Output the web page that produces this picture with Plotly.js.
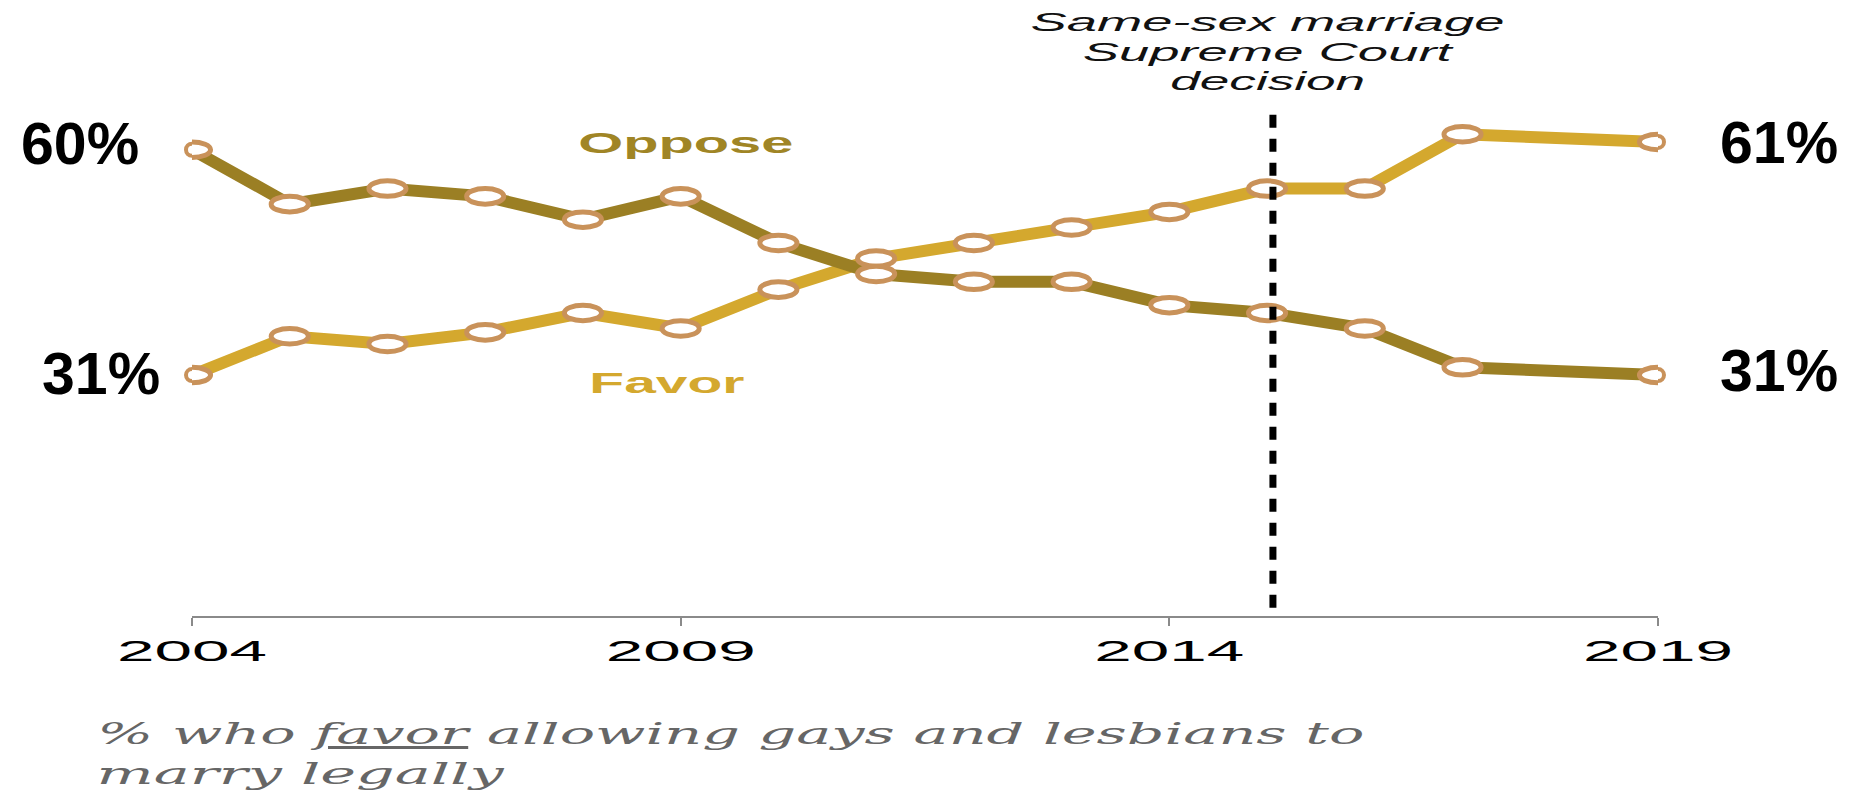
<!DOCTYPE html>
<html>
<head>
<meta charset="utf-8">
<script src="https://cdn.plot.ly/plotly-3.0.1.min.js"></script>
<style>
  html, body { margin: 0; padding: 0; background: #ffffff; }
  #chart { width: 1850px; height: 792px; }
</style>
</head>
<body>
<div id="chart"></div>
<script>
// ---- data ----
const years  = [2004, 2005, 2006, 2007, 2008, 2009, 2010, 2011, 2012, 2013, 2014, 2015, 2016, 2017, 2019];
const favor  = [31, 36, 35, 36.5, 39, 37, 42, 46, 48, 50, 52, 55, 55, 62, 61];
const oppose = [60, 53, 55, 54, 51, 54, 48, 44, 43, 43, 40, 39, 37, 32, 31];
const tickYears  = [2004, 2009, 2014, 2019];
const tickLabels = ['2004', '2009', '2014', '2019'];
const decisionYear = 2015.06;
const decisionLines = ['Same-sex marriage', 'Supreme Court', 'decision'];
const seriesNames = ['Oppose', 'Favor'];
const subtitleLines = ['% who <span style="text-decoration:underline">favor</span> allowing gays and lesbians to', 'marry legally'];

// ---- styles ----
const OPPOSE_COLOR = '#9B7F24';
const FAVOR_COLOR  = '#D4A82E';
const MARKER_EDGE  = '#C9925A';
const SANS = 'Liberation Sans, Arial, sans-serif';

const traces = [
  { x: years, y: favor, name: seriesNames[1], type: 'scatter', mode: 'lines+markers',
    line: { color: FAVOR_COLOR, width: 12 },
    marker: { symbol: 'circle', size: 12, color: '#ffffff', line: { color: MARKER_EDGE, width: 4 } },
    cliponaxis: false, hoverinfo: 'x+y' },
  { x: years, y: oppose, name: seriesNames[0], type: 'scatter', mode: 'lines+markers',
    line: { color: OPPOSE_COLOR, width: 12 },
    marker: { symbol: 'circle', size: 12, color: '#ffffff', line: { color: MARKER_EDGE, width: 4 } },
    cliponaxis: false, hoverinfo: 'x+y' }
];

// elliptical point markers (the source image is stretched horizontally)
const EX = 0.19, EY = 1.0;
const shapes = [];
[favor, oppose].forEach(series => {
  series.forEach((v, i) => {
    shapes.push({ type: 'circle', xref: 'x', yref: 'y',
      x0: years[i] - EX, x1: years[i] + EX, y0: v - EY, y1: v + EY,
      fillcolor: '#ffffff', line: { color: MARKER_EDGE, width: 5 }, layer: 'above' });
  });
});
shapes.push({ type: 'line', xref: 'x', yref: 'y', x0: decisionYear, x1: decisionYear, y0: 64.5, y1: 0.3,
  line: { color: '#000000', width: 7, dash: '13px,11px' }, layer: 'above' });

// annotations + horizontal stretch widths (px)
const annotations = [];
const stretch = [];
function addAnn(a, w) { annotations.push(Object.assign({ showarrow: false }, a)); stretch.push(w || null); }

const pctFont = { family: SANS, size: 59, color: '#000000', weight: 700 };
const last = years.length - 1;
addAnn({ x: years[0], y: oppose[0], xref: 'x', yref: 'y', text: oppose[0] + '%', xanchor: 'right', yanchor: 'middle', xshift: -51, yshift: 6, font: pctFont });
addAnn({ x: years[0], y: favor[0], xref: 'x', yref: 'y', text: favor[0] + '%', xanchor: 'right', yanchor: 'middle', xshift: -30, yshift: 1, font: pctFont });
addAnn({ x: years[last], y: favor[last], xref: 'x', yref: 'y', text: favor[last] + '%', xanchor: 'left', yanchor: 'middle', xshift: 60, yshift: -1, font: pctFont });
addAnn({ x: years[last], y: oppose[last], xref: 'x', yref: 'y', text: oppose[last] + '%', xanchor: 'left', yanchor: 'middle', xshift: 60, yshift: 4, font: pctFont });

// series labels
addAnn({ x: 0.337, y: 0.9167, xref: 'paper', yref: 'paper', text: seriesNames[0], xanchor: 'center', yanchor: 'middle',
  font: { family: SANS, size: 30, color: '#A08525', weight: 700 } }, 215);
addAnn({ x: 0.324, y: 0.4516, xref: 'paper', yref: 'paper', text: seriesNames[1], xanchor: 'center', yanchor: 'middle',
  font: { family: SANS, size: 30, color: FAVOR_COLOR, weight: 700 } }, 155);

// decision note
const decW = [474, 369, 195];
const decY = [22, 51.5, 81];
decisionLines.forEach((t, i) => {
  addAnn({ x: decisionYear, y: (616 - decY[i]) / 516, xref: 'x', yref: 'paper', text: t, xanchor: 'center', yanchor: 'middle', xshift: -5,
    borderpad: 0, font: { family: SANS, size: 26, color: '#111111', style: 'italic' } }, decW[i]);
});

// subtitle (centre of each stretched line)
const subW = [1267, 407];
const subX = [730.5, 300.5];
const subY = [733, 773];
subtitleLines.forEach((t, i) => {
  addAnn({ x: (subX[i] - 192) / 1466, y: (616 - subY[i]) / 516, xref: 'paper', yref: 'paper', text: t, xanchor: 'center', yanchor: 'middle',
    font: { family: 'DejaVu Serif, Georgia, serif', size: 30, color: '#666666', style: 'italic' } }, subW[i]);
});

const layout = {
  width: 1850, height: 792,
  margin: { l: 192, r: 192, t: 100, b: 176, pad: 0 },
  paper_bgcolor: '#ffffff', plot_bgcolor: '#ffffff',
  showlegend: false,
  xaxis: { range: [2004, 2019], tickvals: tickYears, ticktext: tickLabels,
    showgrid: false, zeroline: false, showline: true, linecolor: '#8a8a8a', linewidth: 2,
    ticks: 'outside', ticklen: 8, tickwidth: 2, tickcolor: '#8a8a8a',
    tickfont: { family: SANS, size: 30, color: '#000000' }, ticklabelstandoff: -1, fixedrange: true },
  yaxis: { range: [0, 66.4], visible: false, showgrid: false, zeroline: false, fixedrange: true },
  shapes: shapes,
  annotations: annotations
};

function stretchTexts() {
  const gd = document.getElementById('chart');
  gd.querySelectorAll('g.annotation').forEach(g => {
    const idx = +g.getAttribute('data-index');
    const w = stretch[idx];
    const t = g.querySelector('text.annotation-text');
    if (w && t) { t.setAttribute('textLength', w); t.setAttribute('lengthAdjust', 'spacingAndGlyphs'); }
  });
  gd.querySelectorAll('.xtick text').forEach(t => {
    t.setAttribute('textLength', 150); t.setAttribute('lengthAdjust', 'spacingAndGlyphs');
  });
}

Plotly.newPlot('chart', traces, layout, { displayModeBar: false, staticPlot: true }).then(gd => {
  stretchTexts();
  gd.on('plotly_afterplot', stretchTexts);
});
</script>
</body>
</html>
